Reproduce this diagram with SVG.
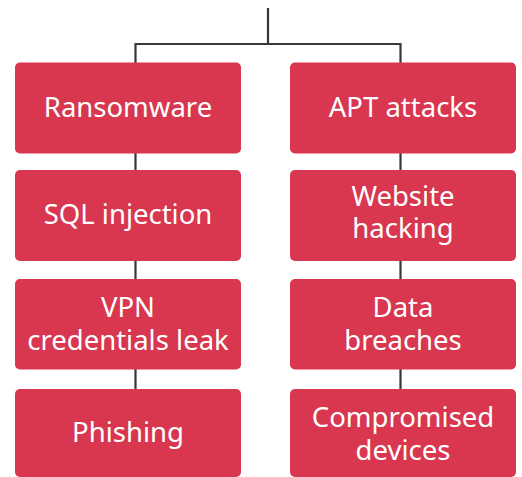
<svg xmlns="http://www.w3.org/2000/svg" width="522" height="477" viewBox="0 0 522 477">
<style>
.box{fill:#d8374f}
.lbl{fill:#ffffff;font-family:"Noto Sans","Open Sans","DejaVu Sans",sans-serif;font-size:27.5px;text-anchor:middle}
.conn{stroke:#3a3638;stroke-width:2.2;fill:none}
</style>
<rect width="522" height="477" fill="#ffffff"/>
<g id="connectors">
<path class="conn" d="M268 8V44M135.5 44H400.5M135.5 43V389M400.5 43V389"/>
</g>
<g id="ransomware"><rect class="box" x="15" y="62.5" width="226" height="91" rx="5"/><text class="lbl" x="128" y="117.3">Ransomware</text></g>
<g id="sql"><rect class="box" x="15" y="170" width="226" height="91" rx="5"/><text class="lbl" x="128" y="224">SQL injection</text></g>
<g id="vpn"><rect class="box" x="15" y="279" width="226" height="90.5" rx="5"/><text class="lbl" x="128" y="317.3">VPN</text><text class="lbl" x="128" y="350">credentials leak</text></g>
<g id="phishing"><rect class="box" x="15" y="389" width="226" height="88" rx="5"/><text class="lbl" x="128" y="441.7">Phishing</text></g>
<g id="apt"><rect class="box" x="290" y="62.5" width="226" height="91" rx="5"/><text class="lbl" x="403" y="117.3">APT attacks</text></g>
<g id="website"><rect class="box" x="290" y="170" width="226" height="91" rx="5"/><text class="lbl" x="403" y="205.7">Website</text><text class="lbl" x="403" y="238.3">hacking</text></g>
<g id="data"><rect class="box" x="290" y="279" width="226" height="90.5" rx="5"/><text class="lbl" x="403" y="317.3">Data</text><text class="lbl" x="403" y="350">breaches</text></g>
<g id="compromised"><rect class="box" x="290" y="389" width="226" height="88" rx="5"/><text class="lbl" x="403" y="426.7">Compromised</text><text class="lbl" x="403" y="460">devices</text></g>
</svg>
